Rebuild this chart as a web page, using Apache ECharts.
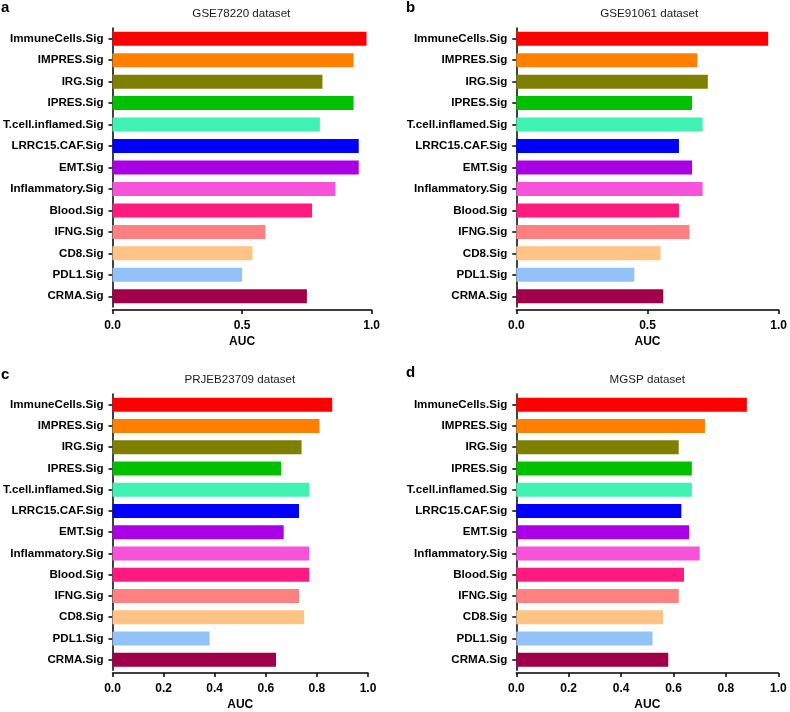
<!DOCTYPE html>
<html>
<head>
<meta charset="utf-8">
<script src="https://cdn.jsdelivr.net/npm/echarts@6/dist/echarts.min.js"></script>
<style>
html,body{margin:0;padding:0;background:#fff;}
#chart{width:790px;height:712px;}
</style>
</head>
<body>
<div id="chart"></div>
<script>
const categories = ['ImmuneCells.Sig','IMPRES.Sig','IRG.Sig','IPRES.Sig','T.cell.inflamed.Sig','LRRC15.CAF.Sig','EMT.Sig','Inflammatory.Sig','Blood.Sig','IFNG.Sig','CD8.Sig','PDL1.Sig','CRMA.Sig'];
const barColors = ['#FF0000','#FF8000','#808000','#00C000','#40F2B2','#0000FF','#AA00E6','#F652DA','#FF1A80','#FF8080','#FFC385','#92C2F8','#A0004A'];

const aucGSE78220   = [0.98,0.93,0.81,0.93,0.80,0.95,0.95,0.86,0.77,0.59,0.54,0.50,0.75];
const aucGSE91061   = [0.96,0.69,0.73,0.67,0.71,0.62,0.67,0.71,0.62,0.66,0.55,0.45,0.56];
const aucPRJEB23709 = [0.86,0.81,0.74,0.66,0.77,0.73,0.67,0.77,0.77,0.73,0.75,0.38,0.64];
const aucMGSP       = [0.88,0.72,0.62,0.67,0.67,0.63,0.66,0.70,0.64,0.62,0.56,0.52,0.58];

const panelTitles = ['GSE78220 dataset','GSE91061 dataset','PRJEB23709 dataset','MGSP dataset'];
const panelLetters = ['a','b','c','d'];
const xIntervals = [0.5, 0.5, 0.2, 0.2];
const xName = 'AUC';

const FONT = '"Liberation Sans", Arial, Helvetica, sans-serif';
const panelData = [aucGSE78220, aucGSE91061, aucPRJEB23709, aucMGSP];

// layout (positions only)
const grids = [
  {left:111,   top:28,  width:260.7, height:279},
  {left:516.3, top:28,  width:266,   height:279},
  {left:111.7, top:394, width:256.3, height:279},
  {left:516.3, top:394, width:262,   height:279}
];
const axisOffsets = [3, 3, 2.7, 2.7];
const titlePos = [{y:13.5},{y:13.5},{y:380},{y:380}];
const letterPos = [{x:1,y:8},{x:406,y:8},{x:1,y:375},{x:406,y:373}];

const chart = echarts.init(document.getElementById('chart'), null, {renderer:'canvas'});

const option = {
  backgroundColor:'#ffffff',
  animation:false,
  grid: grids.map(g => Object.assign({containLabel:false}, g)),
  xAxis: grids.map((g,i) => ({
    type:'value', gridIndex:i, min:0, max:1, interval:xIntervals[i],
    offset:axisOffsets[i],
    name:xName, nameLocation:'middle', nameGap:26,
    nameTextStyle:{fontFamily:FONT, fontWeight:'bold', fontSize:12, color:'#000'},
    axisLine:{show:true, lineStyle:{color:'#000', width:1.5}},
    axisTick:{show:true, length:4, lineStyle:{color:'#000', width:1.5}},
    axisLabel:{fontFamily:FONT, fontWeight:'bold', fontSize:12, color:'#000', margin:10,
      formatter: v => v.toFixed(1)},
    splitLine:{show:false}
  })),
  yAxis: grids.map((g,i) => ({
    type:'category', gridIndex:i, data:categories, inverse:true,
    axisLine:{show:true, lineStyle:{color:'#000', width:1.5}},
    axisTick:{show:true, alignWithLabel:true, length:4, lineStyle:{color:'#000', width:1.5}},
    axisLabel:{fontFamily:FONT, fontWeight:'bold', fontSize:11.6, color:'#000', margin:9},
    splitLine:{show:false}
  })),
  series: panelData.map((vals,i) => ({
    type:'bar', xAxisIndex:i, yAxisIndex:i, barWidth:14,
    data: vals.map((v,k) => ({value:v, itemStyle:{color:barColors[k]}}))
  })),
  graphic: [].concat(
    grids.map((g,i) => ({
      type:'text', x:g.left + g.width/2, y:titlePos[i].y,
      style:{text:panelTitles[i], font:'11.6px '+FONT, fill:'#1a1a1a', align:'center', verticalAlign:'middle',
             textAlign:'center', textVerticalAlign:'middle'}
    })),
    letterPos.map((p,i) => ({
      type:'text', x:p.x, y:p.y,
      style:{text:panelLetters[i], font:'bold 15px '+FONT, fill:'#000', align:'left', verticalAlign:'middle',
             textAlign:'left', textVerticalAlign:'middle'}
    }))
  )
};
chart.setOption(option);
</script>
</body>
</html>
